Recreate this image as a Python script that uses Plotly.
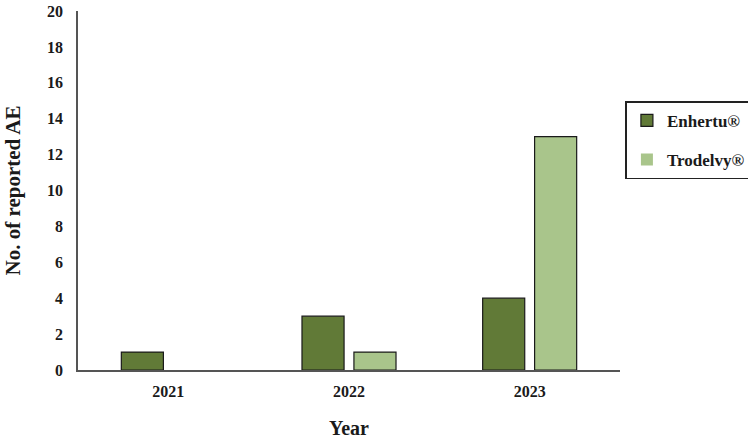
import plotly.graph_objects as go

years = ["2021", "2022", "2023"]
enhertu = [1, 3, 4]
trodelvy = [0, 1, 13]
y_ticks = list(range(0, 21, 2))

FONT = "Liberation Serif"

fig = go.Figure()
fig.add_trace(go.Bar(x=years, y=enhertu, name="Enhertu®", legendgroup="a",
                     marker=dict(color="#617a37", line=dict(color="#1a1a1a", width=1.2))))
fig.add_trace(go.Bar(x=years, y=trodelvy, name="Trodelvy®", legendgroup="b",
                     marker=dict(color="#a9c58b",
                                 line=dict(color="#1a1a1a",
                                           width=[0 if v == 0 else 1.2 for v in trodelvy]))))

fig.update_layout(
    width=748, height=439,
    margin=dict(l=78, r=128, t=11, b=69, autoexpand=False),
    paper_bgcolor="white", plot_bgcolor="white",
    barmode="group", bargap=0.425, bargroupgap=0.19,
    font=dict(family=FONT, size=16, color="#1a1a1a"),
    legend=dict(x=1.01, xanchor="left", y=0.64, yanchor="middle",
                bordercolor="#222", borderwidth=1.5,
                font=dict(family=FONT, size=17, color="#1a1a1a", weight="bold"),
                tracegroupgap=14, itemwidth=30, traceorder="grouped"),
    xaxis=dict(showline=True, linecolor="#555", linewidth=1.5, ticks="", automargin=False,
               ticklabelstandoff=6,
               tickfont=dict(family=FONT, size=16, weight="bold"),
               title=dict(text="Year", font=dict(family=FONT, size=20, weight="bold"), standoff=24)),
    yaxis=dict(range=[0, 20], tickvals=y_ticks, showline=True, linecolor="#555", linewidth=1.5,
               showgrid=False, zeroline=False, ticks="", automargin=False,
               ticklabelstandoff=10, ticklabeloverflow="allow",
               tickfont=dict(family=FONT, size=16, weight="bold"),
               title=dict(text="No. of reported AE", font=dict(family=FONT, size=21, weight="bold"), standoff=21)),
)
fig.write_html("out.html", config={"displayModeBar": False},
               post_script="document.body.style.margin='0';")
